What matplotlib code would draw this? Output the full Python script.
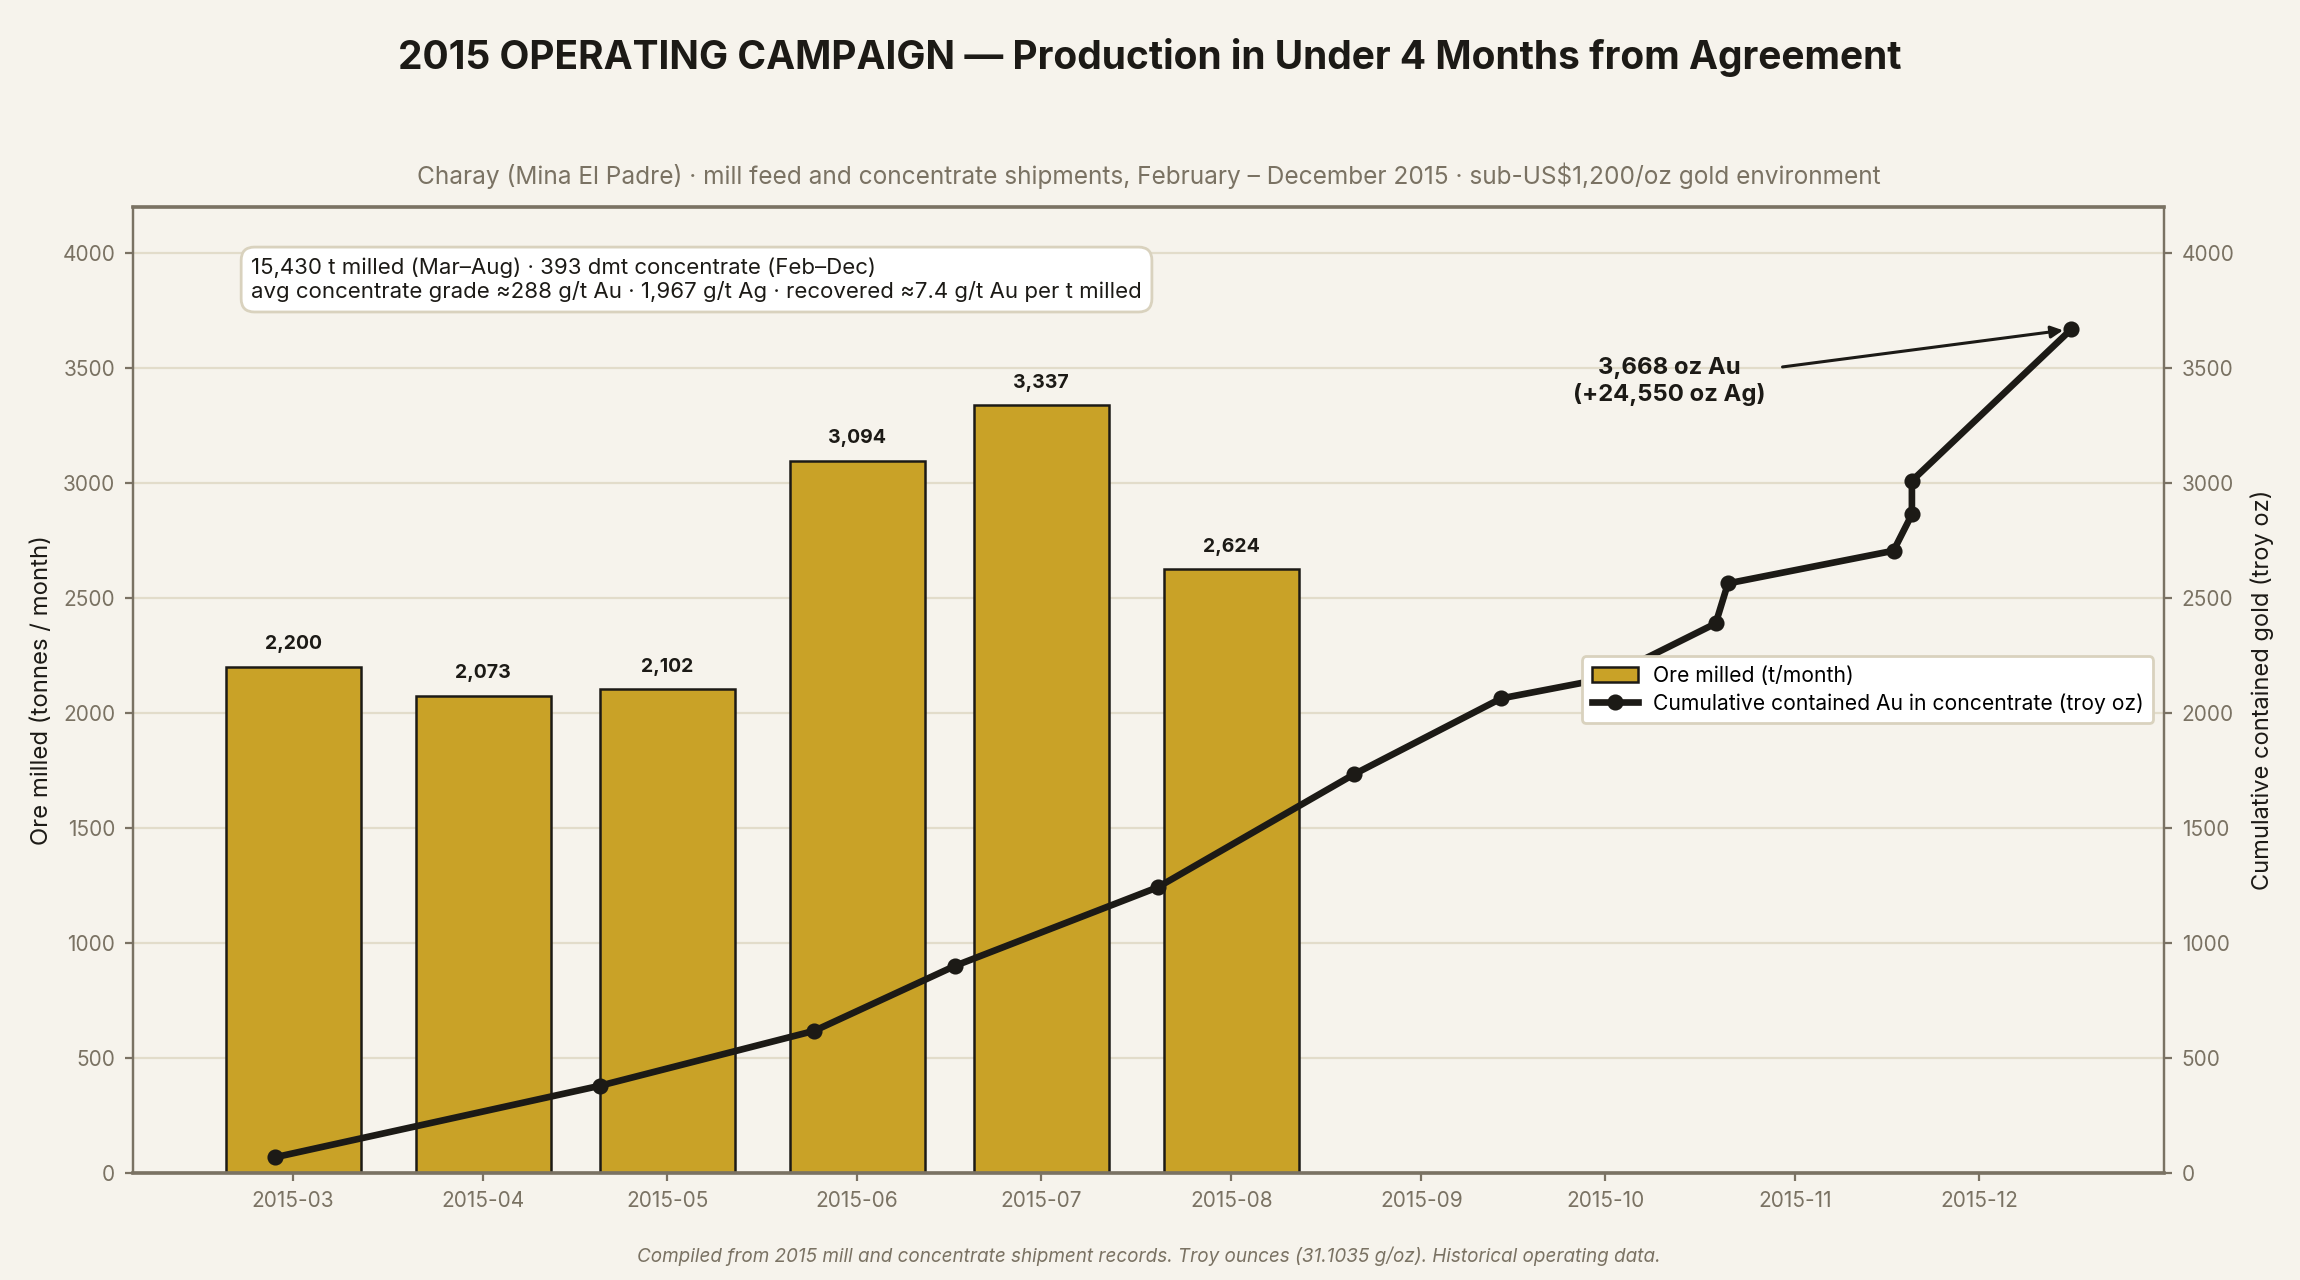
import matplotlib
matplotlib.use("Agg")
import matplotlib.pyplot as plt
import matplotlib.dates as mdates
import numpy as np
import pandas as pd

# ---------------- data ----------------
bar_months = ["2015-03-01", "2015-04-01", "2015-05-01", "2015-06-01", "2015-07-01", "2015-08-01"]
ore_milled = [2200, 2073, 2102, 3094, 3337, 2624]

ship_dates = ["2015-02-26", "2015-04-20", "2015-05-25", "2015-06-17", "2015-07-20",
              "2015-08-21", "2015-09-14", "2015-10-01", "2015-10-19", "2015-10-21",
              "2015-11-17", "2015-11-20", "2015-11-20", "2015-12-16"]
cum_au_oz = [68, 379, 618, 901, 1242, 1733, 2063, 2150, 2389, 2563, 2705, 2863, 3009, 3668]

title = "2015 OPERATING CAMPAIGN \u2014 Production in Under 4 Months from Agreement"
subtitle = ("Charay (Mina El Padre) \u00b7 mill feed and concentrate shipments, February \u2013 December 2015 "
            "\u00b7 sub-US$1,200/oz gold environment")
stats_text = ("15,430 t milled (Mar\u2013Aug) \u00b7 393 dmt concentrate (Feb\u2013Dec)\n"
              "avg concentrate grade \u2248288 g/t Au \u00b7 1,967 g/t Ag \u00b7 recovered \u22487.4 g/t Au per t milled")
annot_text = "3,668 oz Au\n(+24,550 oz Ag)"
footer = "Compiled from 2015 mill and concentrate shipment records. Troy ounces (31.1035 g/oz). Historical operating data."
left_label = "Ore milled (tonnes / month)"
right_label = "Cumulative contained gold (troy oz)"
bar_legend = "Ore milled (t/month)"
line_legend = "Cumulative contained Au in concentrate (troy oz)"

# ---------------- style ----------------
BG = "#F6F3EC"
GOLD = "#C9A227"
DARK = "#1C1A16"
GRID = "#E2DCCA"
GREY = "#7A7263"
BOXEDGE = "#D9D2BE"

plt.rcParams["font.family"] = ["Inter", "DejaVu Sans"]

bx = pd.to_datetime(bar_months)
lx = pd.to_datetime(ship_dates)

fig = plt.figure(figsize=(11.5, 6.4), dpi=200, facecolor=BG)
ax = fig.add_axes([0.058, 0.0836, 0.8827, 0.7548])
ax.set_facecolor(BG)
ax2 = ax.twinx()

bar_w = 22  # days
bars = ax.bar(bx, ore_milled, width=bar_w, color=GOLD, edgecolor=DARK, linewidth=0.9,
              zorder=2, label=bar_legend)
for x, v in zip(bx, ore_milled):
    ax.text(x, v + 60, f"{v:,}", ha="center", va="bottom", fontsize=7,
            fontweight="bold", color=DARK, zorder=3)

line, = ax2.plot(lx, cum_au_oz, color=DARK, lw=2.4, marker="o", markersize=4.8,
                 zorder=4, label=line_legend)

# limits (5% auto-style margins around the data span)
xmin = bx.min() - pd.Timedelta(days=bar_w / 2)
xmax = lx.max()
span = xmax - xmin
ax.set_xlim(xmin - span * 0.05, xmax + span * 0.05)
ax.set_ylim(0, 4200)
ax2.set_ylim(0, 4200)
ax.set_yticks(np.arange(0, 4001, 500))
ax2.set_yticks(np.arange(0, 4001, 500))

ax.xaxis.set_major_locator(mdates.MonthLocator(bymonth=range(3, 13)))
ax.xaxis.set_major_formatter(mdates.DateFormatter("%Y-%m"))

ax.grid(axis="y", color=GRID, lw=0.8, zorder=0)
ax.set_axisbelow(True)

for a in (ax, ax2):
    a.tick_params(colors=GREY, labelsize=7.5, length=3, width=0.8)
    for s in a.spines.values():
        s.set_color(GREY)
        s.set_linewidth(0.8)
ax.spines["bottom"].set_linewidth(1.3)
ax.spines["top"].set_linewidth(1.3)

ax.set_ylabel(left_label, fontsize=8.6, color=DARK)
ax.yaxis.set_label_coords(-0.0395, 0.5)
ax2.set_ylabel(right_label, fontsize=8.5, color=DARK)
ax2.yaxis.set_label_coords(1.0427, 0.5)

# stats box
ax.text(0.058, 0.948, stats_text, transform=ax.transAxes, ha="left", va="top",
        fontsize=8, color=DARK, linespacing=1.2, zorder=6,
        bbox=dict(boxstyle="round,pad=0.45,rounding_size=0.6", facecolor="white",
                  edgecolor=BOXEDGE, lw=1.0))

# annotation for final point
ax2.annotate(annot_text, xy=(lx[-1], cum_au_oz[-1]),
             xytext=(pd.Timestamp("2015-10-11 12:00"), 3440),
             ha="center", va="center", fontsize=8.6, fontweight="bold", color=DARK,
             linespacing=1.2,
             arrowprops=dict(arrowstyle="-|>", color=DARK, lw=1.1, shrinkA=4, shrinkB=3,
                             mutation_scale=9))

# legend
leg = ax2.legend([bars, line], [bar_legend, line_legend], loc="center right",
                 bbox_to_anchor=(1.0, 0.5), fontsize=7.6, frameon=True, fancybox=True,
                 framealpha=1.0, facecolor="white", edgecolor=BOXEDGE,
                 borderpad=0.45, labelspacing=0.35, handlelength=2.2, handletextpad=0.7)
leg.get_frame().set_linewidth(1.0)

fig.text(0.5, 0.955, title, ha="center", va="center", fontsize=14, fontweight="bold", color=DARK)
fig.text(0.4995, 0.8625, subtitle, ha="center", va="center", fontsize=8.8, color=GREY)
fig.text(0.4995, 0.0187, footer, ha="center", va="center", fontsize=6.8, style="italic", color=GREY)

fig.savefig("out.png", dpi=200, facecolor=BG)
